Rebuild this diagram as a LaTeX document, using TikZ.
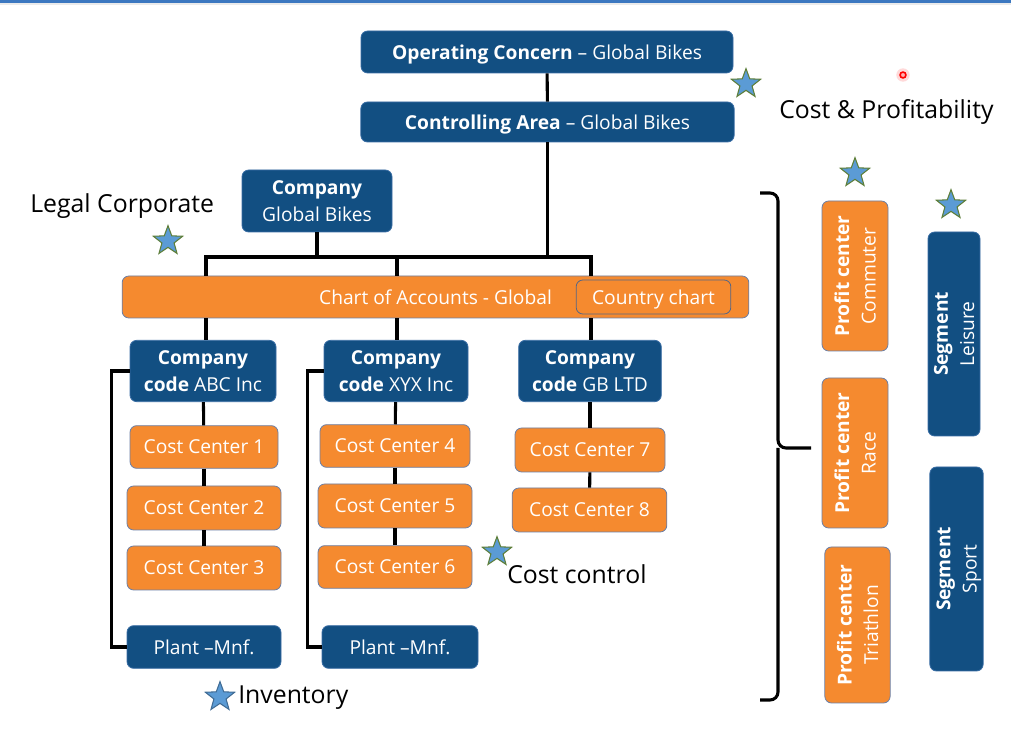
\documentclass[tikz,border=0pt]{standalone}
\usepackage{fontspec}
\setmainfont{Open Sans}
\usetikzlibrary{shapes.geometric,calc}
\definecolor{dblue}{HTML}{124F82}
\definecolor{bborder}{HTML}{3A6EA5}
\definecolor{orng}{HTML}{F58A2F}
\definecolor{oborder}{HTML}{6B7FA6}
\definecolor{starfill}{HTML}{5B9BD5}
\definecolor{stardraw}{HTML}{5E7F3A}
\definecolor{topline}{HTML}{3C78C0}
\begin{document}
\begin{tikzpicture}[x=0.75pt,y=-0.75pt,
  basebox/.style={rectangle, rounded corners=5pt, line width=0.6pt, text=white,
    font=\fontsize{14.4}{19.8}\selectfont, align=center, inner sep=0pt, text depth=0pt},
  bluebox/.style={basebox, fill=dblue, draw=bborder},
  orbox/.style={basebox, fill=orng, draw=oborder},
  conn/.style={line width=2.3pt, black},
  lbl/.style={font=\fontsize{18.6}{22}\selectfont, text=black, inner sep=0pt},
  mystar/.style={star, star points=5, star point ratio=2.4, fill=starfill, draw=stardraw,
    line width=0.8pt, minimum size=23pt, inner sep=0pt}]
\useasboundingbox (0,0) rectangle (1011,730);
\fill[white] (0,0) rectangle (1011,730);
\fill[topline] (0,0) rectangle (1011,3);
\fill[black!8] (0,3) rectangle (1011,5);

% top chain
\node[bluebox, minimum width=279pt, minimum height=31.5pt] (oc) at (547,52)
  {\textbf{Operating Concern} – Global Bikes};
\node[bluebox, minimum width=280pt, minimum height=30pt] (ca) at (547.5,122)
  {\textbf{Controlling Area} – Global Bikes};
\node[bluebox, minimum width=112.5pt, minimum height=46.5pt] (cgb) at (317,201)
  {\textbf{Company}\\Global Bikes};

\node[orbox, minimum width=470pt, minimum height=31.5pt] (chart) at (435.5,297)
  {Chart of Accounts - Global};
\node[orbox, draw=oborder!80!black, minimum width=116pt, minimum height=25.5pt] (cchart) at (653.5,297)
  {Country chart};

% company codes
\node[bluebox, minimum width=109.5pt, minimum height=46pt] (abc) at (203,371)
  {\textbf{Company}\\\textbf{code} ABC Inc};
\node[bluebox, minimum width=108pt, minimum height=46pt] (xyx) at (396,371)
  {\textbf{Company}\\\textbf{code} XYX Inc};
\node[bluebox, minimum width=107pt, minimum height=46pt] (gb) at (590,371)
  {\textbf{Company}\\\textbf{code} GB LTD};

% cost centers
\node[orbox, minimum width=111pt, minimum height=32pt] (c1) at (204,447) {Cost Center 1};
\node[orbox, minimum width=115.5pt, minimum height=33pt] (c2) at (204,508) {Cost Center 2};
\node[orbox, minimum width=115.5pt, minimum height=33pt] (c3) at (204,568) {Cost Center 3};
\node[orbox, minimum width=112.5pt, minimum height=32pt] (c4) at (395,446) {Cost Center 4};
\node[orbox, minimum width=115.5pt, minimum height=33pt] (c5) at (395,506) {Cost Center 5};
\node[orbox, minimum width=115.5pt, minimum height=32pt] (c6) at (395,567) {Cost Center 6};
\node[orbox, minimum width=112.5pt, minimum height=33pt] (c7) at (590,450) {Cost Center 7};
\node[orbox, minimum width=116pt, minimum height=33pt] (c8) at (589.5,510) {Cost Center 8};

% plants
\node[bluebox, minimum width=115.5pt, minimum height=32pt] (pa) at (204,647) {Plant –Mnf.};
\node[bluebox, minimum width=117pt, minimum height=32pt] (pb) at (400,647) {Plant –Mnf.};

% profit centers and segments
\node[orbox, rotate=90, minimum width=112.5pt, minimum height=49.5pt] (pc1) at (855,276)
  {\textbf{Profit center}\\Commuter};
\node[orbox, rotate=90, minimum width=112.5pt, minimum height=49.5pt] (pc2) at (855,453)
  {\textbf{Profit center}\\Race};
\node[orbox, rotate=90, minimum width=117pt, minimum height=49pt] (pc3) at (857.5,625)
  {\textbf{Profit center}\\Triathlon};
\node[bluebox, rotate=90, minimum width=153pt, minimum height=39pt] (sg1) at (954,334)
  {\textbf{Segment}\\Leisure};
\node[bluebox, rotate=90, minimum width=153pt, minimum height=40pt] (sg2) at (956.5,569)
  {\textbf{Segment}\\Sport};

% connectors
\coordinate (barL) at (206,257);
\coordinate (barM) at (397,257);
\coordinate (barR) at (591,257);
\draw[conn] (oc) -- (ca);
\draw[conn] (ca.south) -- (ca.south |- barR);
\draw[conn] (cgb.south) -- (cgb.south |- barL);
\draw[conn, line cap=rect, line width=2.8pt] (barL) -- (barR);
\draw[conn] (barL) -- (barL |- chart.north);
\draw[conn] (barM) -- (barM |- chart.north);
\draw[conn] (barR) -- (barR |- chart.north);
\draw[conn] (chart.south -| barL) -- (abc.north -| barL);
\draw[conn] (chart.south -| barM) -- (xyx.north -| barM);
\draw[conn] (chart.south -| barR) -- (gb.north -| barR);
\draw[conn] (abc) -- (c1);
\draw[conn] (c1) -- (c2);
\draw[conn] (c2) -- (c3);
\draw[conn] (xyx) -- (c4);
\draw[conn] (c4) -- (c5);
\draw[conn] (c5) -- (c6);
\draw[conn] (gb) -- (c7);
\draw[conn] (c7) -- (c8);
\draw[conn] (abc.west) -- +(-18,0) |- (pa.west);
\draw[conn] (xyx.west) -- +(-16,0) |- (pb.west);

% brace
\coordinate (brT) at (760,193);
\coordinate (brB) at (760,700);
\coordinate (brTip) at (811,448);
\draw[conn, rounded corners=6pt] (brT) -- (778,193) -- (778,448) -- (brTip);
\draw[conn, rounded corners=6pt] (brB) -- (778,700) -- (778,448);

% labels
\node[lbl, anchor=west] (lcp) at (779,112) {Cost \& Profitability};
\node[lbl, anchor=west] (llc) at (30,206) {Legal Corporate};
\node[lbl, anchor=west] (lcc) at (507,574) {Cost control};
\node[lbl, anchor=west] (linv) at (238,698) {Inventory};

% stars
\node[mystar] (s1) at (746,84) {};
\node[mystar] (s2) at (855,173) {};
\node[mystar] (s3) at (951,205) {};
\node[mystar] (s4) at (168,241) {};
\node[mystar] (s5) at (497,552) {};
\node[mystar, draw=starfill!70!black] (s6) at (220,697) {};

% pointer dot
\fill[red!15] (903,75) circle (5pt);
\draw[red, line width=1.2pt, fill=red!30] (903,75) circle (2.2pt);
\end{tikzpicture}
\end{document}
